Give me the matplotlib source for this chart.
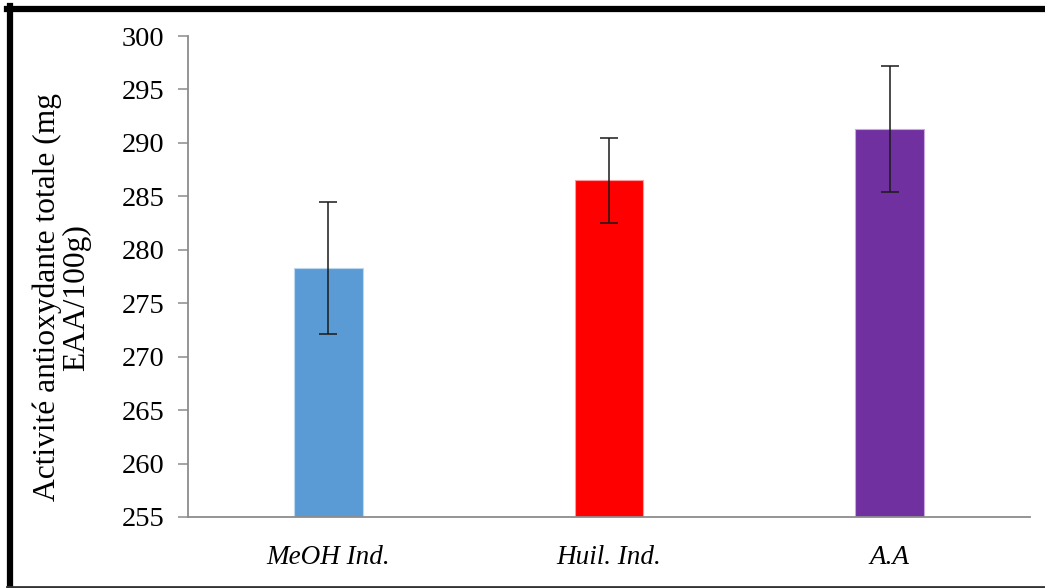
import matplotlib
matplotlib.use("Agg")
import matplotlib.pyplot as plt
from matplotlib.lines import Line2D
import numpy as np

categories = ["MeOH Ind.", "Huil. Ind.", "A.A"]
values = [278.3, 286.5, 291.3]
errors = [6.2, 4.0, 5.9]
colors = ["#5B9BD5", "#FF0000", "#7030A0"]
edge_colors = ["#BDD7EE", "#FF9999", "#C9A6E4"]

plt.rcParams['font.family'] = ['Liberation Serif', 'DejaVu Serif']

fig = plt.figure(figsize=(10.45, 5.88), dpi=100)
ax = fig.add_axes([188 / 1045, 1 - 517 / 588, (1030 - 188) / 1045, (517 - 36) / 588])

x = np.arange(len(categories))
ax.bar(x, np.array(values) - 255, bottom=255, width=0.245, color=colors,
       edgecolor=edge_colors, linewidth=0.8, zorder=2)
ax.errorbar(x, values, yerr=errors, fmt="none", ecolor="#1a1a1a",
            elinewidth=1.1, capsize=6.5, capthick=1.1, zorder=3)

ax.set_xlim(-0.5, 2.5)
ax.set_ylim(255, 300)
ax.set_yticks(np.arange(255, 301, 5))
ax.set_xticks(x)
ax.set_xticklabels(categories, fontstyle="italic", fontsize=19.5)
ax.tick_params(axis="y", labelsize=20.5, length=7, width=1.1, color="#8c8c8c",
               pad=10, direction="out")
ax.tick_params(axis="x", length=0, pad=20)

for s in ["top", "right"]:
    ax.spines[s].set_visible(False)
for s in ["left", "bottom"]:
    ax.spines[s].set_color("#8c8c8c")
    ax.spines[s].set_linewidth(1.3)

ax.set_ylabel("Activité antioxydante totale (mg\nEAA/100g)", fontsize=22.7,
              linespacing=1.0, ha="center", va="center")
ax.yaxis.set_label_coords(-0.15, 0.457)

# cadre noir autour de la figure
fig.add_artist(Line2D([7 / 1045, 1], [1 - 9 / 588, 1 - 9 / 588], color="black",
                      linewidth=4.5, transform=fig.transFigure))
fig.add_artist(Line2D([10 / 1045, 10 / 1045], [1 - 6 / 588, 1 / 588], color="black",
                      linewidth=4.5, transform=fig.transFigure))
fig.add_artist(Line2D([7 / 1045, 1], [1.2 / 588, 1.2 / 588], color="#333333",
                      linewidth=2, transform=fig.transFigure))

fig.savefig("out.png", dpi=100, facecolor="white")
